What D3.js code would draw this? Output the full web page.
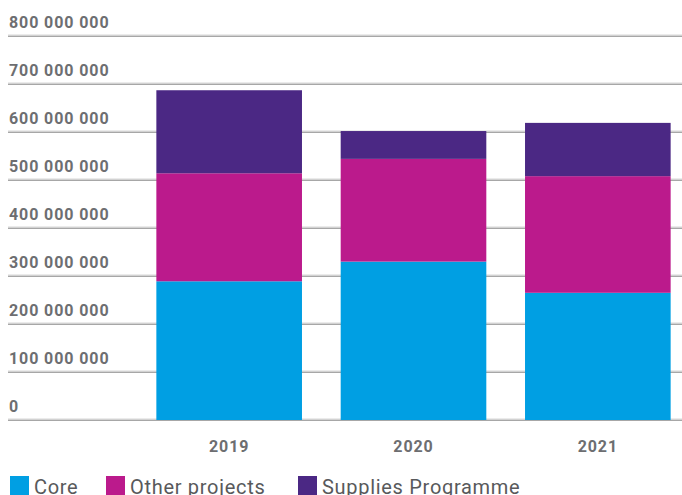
<!DOCTYPE html>
<html>
<head>
<meta charset="utf-8">
<script src="https://cdn.jsdelivr.net/npm/d3@7"></script>
<style>
  body { margin: 0; background: #fff; }
  text { font-family: Roboto, "Noto Sans", sans-serif; }
</style>
</head>
<body>
<div id="chart"></div>
<script>
const svgWidth = 682;
const svgHeight = 495;

const years = ["2019", "2020", "2021"];
const series = ["Core", "Other projects", "Supplies Programme"];
const coreValues = [289000000, 330000000, 265000000];
const otherValues = [225000000, 214000000, 243000000];
const suppliesValues = [173000000, 58000000, 111000000];
const yTicks = [0, 100000000, 200000000, 300000000, 400000000, 500000000, 600000000, 700000000, 800000000];
const colors = ["#009fe3", "#bb1a8c", "#4b2884"];

const rows = years.map((y, i) => ({
    year: y,
    "Core": coreValues[i],
    "Other projects": otherValues[i],
    "Supplies Programme": suppliesValues[i]
}));

const svg = d3.select("#chart")
    .append("svg")
    .attr("width", svgWidth)
    .attr("height", svgHeight);

const xScale = d3.scaleBand()
    .domain(years)
    .range([137, 690])
    .paddingInner(0.21)
    .paddingOuter(0.105);

const yScale = d3.scaleLinear()
    .domain([0, 800000000])
    .range([420, 36]);

const fmt = v => d3.format(",")(v).replace(/,/g, " ");

// gridlines + labels
const grid = svg.append("g");
grid.selectAll(".shade")
    .data(yTicks)
    .enter()
    .append("line")
    .attr("x1", 8).attr("x2", svgWidth)
    .attr("y1", d => yScale(d) - 1).attr("y2", d => yScale(d) - 1)
    .attr("stroke", "#d6d6d6")
    .attr("stroke-width", 1);
grid.selectAll(".gl")
    .data(yTicks)
    .enter()
    .append("line")
    .attr("x1", 8).attr("x2", svgWidth)
    .attr("y1", d => yScale(d) + 0.25).attr("y2", d => yScale(d) + 0.25)
    .attr("stroke", "#8a8a8a")
    .attr("stroke-width", 1.2);
grid.selectAll(".lbl")
    .data(yTicks)
    .enter()
    .append("text")
    .attr("x", 9)
    .attr("y", d => yScale(d) - 8)
    .style("font-size", "16px")
    .style("font-weight", "bold")
    .style("letter-spacing", "0.9px")
    .attr("fill", "#6d6e71")
    .text(d => fmt(d));

// stacked bars
const stacked = d3.stack().keys(series)(rows);
svg.selectAll(".layer")
    .data(stacked)
    .enter()
    .append("g")
    .attr("fill", (d, i) => colors[i])
    .selectAll("rect")
    .data(d => d)
    .enter()
    .append("rect")
    .attr("x", d => xScale(d.data.year))
    .attr("y", d => yScale(d[1]))
    .attr("width", xScale.bandwidth())
    .attr("height", d => yScale(d[0]) - yScale(d[1]));

// x labels
svg.selectAll(".year")
    .data(years)
    .enter()
    .append("text")
    .attr("x", d => xScale(d) + xScale.bandwidth() / 2)
    .attr("y", 452)
    .attr("text-anchor", "middle")
    .style("font-size", "16px")
    .style("font-weight", "bold")
    .style("letter-spacing", "0.9px")
    .attr("fill", "#6d6e71")
    .text(d => d);

// legend
const legendX = [10, 106, 298];
const legend = svg.selectAll(".legend")
    .data(series)
    .enter()
    .append("g")
    .attr("transform", (d, i) => `translate(${legendX[i]}, 476)`);
legend.append("rect")
    .attr("width", 19)
    .attr("height", 19)
    .attr("fill", (d, i) => colors[i]);
legend.append("text")
    .attr("x", 24)
    .attr("y", 18)
    .style("font-size", "20px")
    .style("letter-spacing", "0.7px")
    .attr("fill", "#58595b")
    .text(d => d);
</script>
</body>
</html>
